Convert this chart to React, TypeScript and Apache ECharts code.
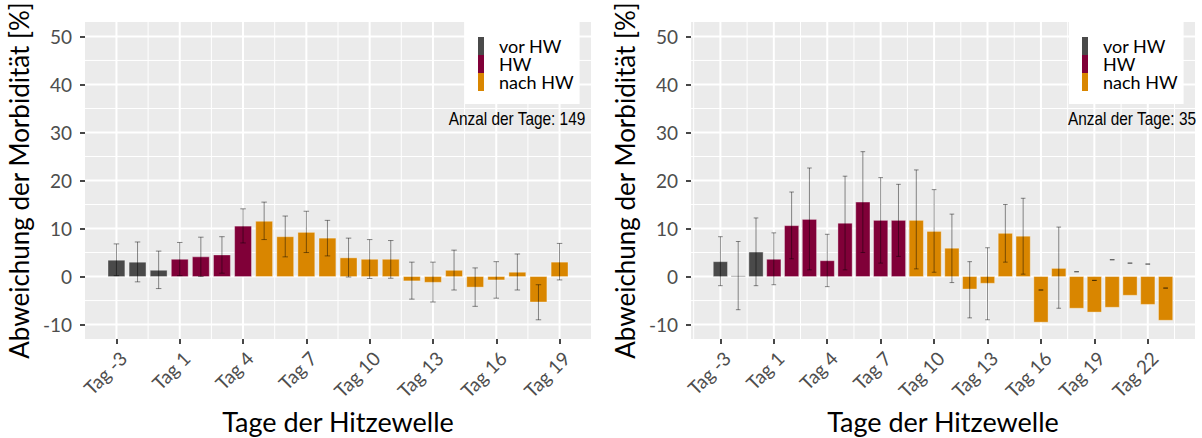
import React, { useEffect, useRef } from "react";
import * as echarts from "echarts";

// ---------- data ----------
const phaseNames = ["vor HW", "HW", "nach HW"];

const leftDays = [-3, -2, -1, 1, 2, 3, 4, 5, 6, 7, 8, 9, 10, 11, 12, 13, 14, 15, 16, 17, 18, 19];
const leftPhase = [0, 0, 0, 1, 1, 1, 1, 2, 2, 2, 2, 2, 2, 2, 2, 2, 2, 2, 2, 2, 2, 2];
const leftValues = [3.4, 3.0, 1.3, 3.6, 4.1, 4.5, 10.5, 11.5, 8.3, 9.2, 8.0, 3.9, 3.6, 3.6, -0.9, -1.2, 1.3, -2.2, -0.7, 0.9, -5.3, 3.0];
const leftLow = [0.2, -1.1, -2.5, 0.2, 0.0, 0.7, 7.0, 7.7, 4.1, 5.0, 4.3, -0.1, -0.4, -0.35, -4.7, -5.3, -2.8, -6.2, -4.5, -2.8, -9.0, -0.7];
const leftHigh = [6.8, 7.2, 5.3, 7.1, 8.2, 8.3, 14.1, 15.5, 12.6, 13.6, 11.7, 8.0, 7.7, 7.5, 3.0, 3.0, 5.5, 1.8, 3.1, 4.7, -1.7, 6.9];
const leftCount = 149;

const rightDays = [-3, -2, -1, 1, 2, 3, 4, 5, 6, 7, 8, 9, 10, 11, 12, 13, 14, 15, 16, 17, 18, 19, 20, 21, 22, 23];
const rightPhase = [0, 0, 0, 1, 1, 1, 1, 1, 1, 1, 1, 2, 2, 2, 2, 2, 2, 2, 2, 2, 2, 2, 2, 2, 2, 2];
const rightValues = [3.1, 0.15, 5.1, 3.6, 10.6, 11.9, 3.3, 11.1, 15.5, 11.7, 11.7, 11.7, 9.4, 5.9, -2.6, -1.4, 9.0, 8.4, -9.5, 1.7, -6.6, -7.4, -6.4, -3.9, -5.8, -9.1];
const rightLow = [-1.9, -6.9, -1.9, -1.7, 3.7, 1.4, -2.1, 1.4, 5.0, 2.8, 4.2, 1.6, 0.9, -1.25, -8.6, -9.0, 3.0, 0.5, -2.8, -6.6, 1.0, -0.8, 3.5, 2.8, 2.6, -2.4];
const rightHigh = [8.3, 7.3, 12.2, 9.1, 17.6, 22.6, 8.8, 20.9, 26.0, 20.6, 19.2, 22.2, 18.1, 13.0, 3.1, 6.0, 15.0, 16.3, -2.8, 10.3, 1.0, -0.8, 3.5, 2.8, 2.6, -2.4];
const rightCount = 35;

const yTicks = [-10, 0, 10, 20, 30, 40, 50];
const yMinorTicks = [-5, 5, 15, 25, 35, 45];

// ---------- styles ----------
const phaseColors = ["#4a4a4a", "#800038", "#d98600"];
const FONT = "Lato";
const PANEL_BG = "#EBEBEB";

type Panel = {
  days: number[];
  phase: number[];
  values: number[];
  low: number[];
  high: number[];
  count: number;
  left: number;
  width: number;
  xMin: number;
  xMax: number;
  noteX: number;
};

const panels: Panel[] = [
  { days: leftDays, phase: leftPhase, values: leftValues, low: leftLow, high: leftHigh, count: leftCount, left: 85, width: 506, xMin: -1.49, xMax: 22.49, noteX: 517 },
  { days: rightDays, phase: rightPhase, values: rightValues, low: rightLow, high: rightHigh, count: rightCount, left: 691, width: 504, xMin: -1.65, xMax: 26.65, noteX: 1132 },
];

const TOP = 22;
const HEIGHT = 317;
const BAR_W = 0.8;
const CAP_W = 0.26;

function buildOption() {
  const grid: any[] = [];
  const xAxis: any[] = [];
  const yAxis: any[] = [];
  const series: any[] = [];
  const legend: any[] = [];
  const graphic: any[] = [];

  panels.forEach((p, gi) => {
    const majorIdx: number[] = [];
    for (let i = 0; i < p.days.length; i += 3) majorIdx.push(i);
    const minorIdx: number[] = [];
    for (let v = -1.5; v <= p.xMax; v += 3) if (v >= p.xMin) minorIdx.push(v);

    grid.push({
      left: p.left,
      top: TOP,
      width: p.width,
      height: HEIGHT,
      show: true,
      backgroundColor: PANEL_BG,
      borderWidth: 0,
      containLabel: false,
      outerBoundsMode: "none",
    });

    xAxis.push({
      gridIndex: gi,
      type: "value",
      min: p.xMin,
      max: p.xMax,
      axisLine: { show: false, onZero: false },
      splitLine: { show: false },
      axisTick: { show: true, customValues: majorIdx, length: 5, lineStyle: { color: "#333333", width: 1.8 } },
      axisLabel: {
        show: true,
        customValues: majorIdx,
        formatter: (v: number) => "Tag " + p.days[Math.round(v)],
        rotate: 45,
        align: "right",
        verticalAlign: "top",
        margin: 9,
        color: "#4d4d4d",
        fontSize: 19,
        fontFamily: FONT,
      },
      name: "Tage der Hitzewelle",
      nameLocation: "middle",
      nameGap: 69,
      nameTextStyle: { fontSize: 27, color: "#000", fontFamily: FONT },
    });

    yAxis.push({
      gridIndex: gi,
      type: "value",
      min: -13,
      max: 53,
      axisLine: { show: false, onZero: false },
      splitLine: { show: false },
      axisTick: { show: true, customValues: yTicks, length: 5, lineStyle: { color: "#333333", width: 1.8 } },
      axisLabel: { show: true, customValues: yTicks, margin: 13, color: "#4d4d4d", fontSize: 19, fontFamily: FONT },
      name: "Abweichung der Morbidität [%]",
      nameLocation: "middle",
      nameRotate: 90,
      nameGap: 53,
      nameTextStyle: { fontSize: 26, color: "#000", fontFamily: FONT },
    });

    const lineStyleOf = (major: boolean) => ({ stroke: "#ffffff", lineWidth: major ? 2 : 1 });

    // vertical grid lines (x breaks)
    const vData: number[][] = [];
    majorIdx.forEach((v) => vData.push([v, 0, 1]));
    minorIdx.forEach((v) => vData.push([v, 0, 0]));
    series.push({
      type: "custom",
      name: "vgrid" + gi,
      xAxisIndex: gi,
      yAxisIndex: gi,
      z: 1,
      silent: true,
      data: vData,
      encode: { x: 0, y: 1 },
      renderItem: (params: any, api: any) => {
        const cs = params.coordSys;
        const pt = api.coord([api.value(0), 0]);
        return {
          type: "line",
          shape: { x1: pt[0], y1: cs.y, x2: pt[0], y2: cs.y + cs.height },
          style: lineStyleOf(api.value(2) === 1),
        };
      },
    });

    // horizontal grid lines (y breaks)
    const hData: number[][] = [];
    yTicks.forEach((v) => hData.push([0, v, 1]));
    yMinorTicks.forEach((v) => hData.push([0, v, 0]));
    series.push({
      type: "custom",
      name: "hgrid" + gi,
      xAxisIndex: gi,
      yAxisIndex: gi,
      z: 1,
      silent: true,
      data: hData,
      encode: { x: 0, y: 1 },
      renderItem: (params: any, api: any) => {
        const cs = params.coordSys;
        const pt = api.coord([0, api.value(1)]);
        return {
          type: "line",
          shape: { x1: cs.x, y1: pt[1], x2: cs.x + cs.width, y2: pt[1] },
          style: lineStyleOf(api.value(2) === 1),
        };
      },
    });

    // bars by phase
    phaseNames.forEach((name, ph) => {
      const data: number[][] = [];
      p.values.forEach((val, i) => {
        if (p.phase[i] === ph) data.push([i, val]);
      });
      series.push({
        type: "custom",
        name,
        xAxisIndex: gi,
        yAxisIndex: gi,
        z: 2,
        itemStyle: { color: phaseColors[ph] },
        data,
        encode: { x: 0, y: 1 },
        renderItem: (params: any, api: any) => {
          const x = api.value(0);
          const y = api.value(1);
          const a = api.coord([x - BAR_W / 2, y]);
          const b = api.coord([x + BAR_W / 2, 0]);
          return {
            type: "rect",
            shape: { x: a[0], y: Math.min(a[1], b[1]), width: b[0] - a[0], height: Math.abs(b[1] - a[1]) },
            style: { fill: phaseColors[ph], stroke: "rgba(255,255,255,0.35)", lineWidth: 1 },
          };
        },
      });
    });

    // error bars
    const errData = p.values.map((_, i) => [i, p.low[i], p.high[i]]);
    series.push({
      type: "custom",
      name: "err" + gi,
      xAxisIndex: gi,
      yAxisIndex: gi,
      z: 3,
      silent: true,
      data: errData,
      encode: { x: 0, y: [1, 2] },
      renderItem: (params: any, api: any) => {
        const x = api.value(0);
        const lo = api.value(1);
        const hi = api.value(2);
        const top = api.coord([x, hi]);
        const bot = api.coord([x, lo]);
        const l = api.coord([x - CAP_W / 2, hi]);
        const r = api.coord([x + CAP_W / 2, hi]);
        const st = { stroke: "rgba(0,0,0,0.45)", lineWidth: 1 };
        return {
          type: "group",
          children: [
            { type: "line", shape: { x1: top[0], y1: top[1], x2: bot[0], y2: bot[1] }, style: st },
            { type: "line", shape: { x1: l[0], y1: top[1], x2: r[0], y2: top[1] }, style: st },
            { type: "line", shape: { x1: l[0], y1: bot[1], x2: r[0], y2: bot[1] }, style: st },
          ],
        };
      },
    });

    const right = p.left + p.width;
    legend.push({
      data: phaseNames,
      orient: "vertical",
      left: right - 126,
      top: TOP,
      width: 126,
      padding: [15, 6, 13, 13],
      itemWidth: 6,
      itemHeight: 18,
      itemGap: 0,
      icon: "rect",
      backgroundColor: "#ffffff",
      selectedMode: false,
      textStyle: { fontSize: 18, fontFamily: FONT, color: "#000", lineHeight: 18, padding: [0, 0, 0, 10] },
    });

    graphic.push({
      type: "text",
      x: p.noteX,
      y: 119,
      scaleX: 0.88,
      z: 10,
      style: {
        text: "Anzal der Tage: " + p.count,
        fontFamily: "Liberation Sans, Arial, sans-serif",
        fontSize: 17.5,
        fill: "#000",
        textAlign: "center",
        textVerticalAlign: "middle",
      },
    });
  });

  return { animation: false, grid, xAxis, yAxis, series, legend, graphic };
}

export default function App() {
  const ref = useRef<HTMLDivElement>(null);
  useEffect(() => {
    if (!ref.current) return;
    const chart = echarts.init(ref.current, null, { renderer: "svg" });
    chart.setOption(buildOption() as any);
    return () => chart.dispose();
  }, []);
  return (
    <div
      ref={ref}
      style={{ position: "absolute", left: 0, top: 0, width: 1202, height: 438, background: "#ffffff" }}
    />
  );
}
